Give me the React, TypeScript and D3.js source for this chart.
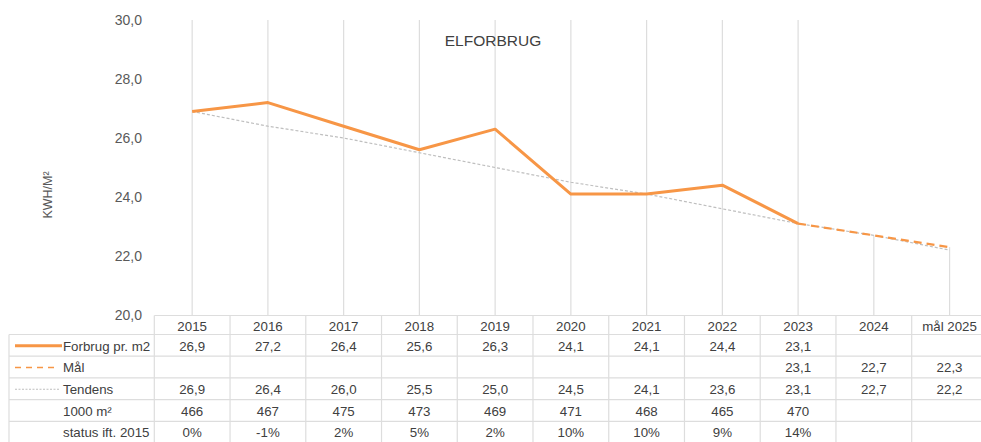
import React from "react";
import * as d3 from "d3";

const categories = ["2015", "2016", "2017", "2018", "2019", "2020", "2021", "2022", "2023", "2024", "mål 2025"];
const forbrug: (number | null)[] = [26.9, 27.2, 26.4, 25.6, 26.3, 24.1, 24.1, 24.4, 23.1, null, null];
const maal: (number | null)[] = [null, null, null, null, null, null, null, null, 23.1, 22.7, 22.3];
const tendens: (number | null)[] = [26.9, 26.4, 26.0, 25.5, 25.0, 24.5, 24.1, 23.6, 23.1, 22.7, 22.2];
const areal: (string | null)[] = ["466", "467", "475", "473", "469", "471", "468", "465", "470", null, null];
const status: (string | null)[] = ["0%", "-1%", "2%", "5%", "2%", "10%", "10%", "9%", "14%", null, null];
const yTicks = [20, 22, 24, 26, 28, 30];

const W = 981;
const H = 442;
const ORANGE = "#F79646";
const GRAY = "#BFBFBF";
const GRID = "#DDDDDD";
const TXT = "#404040";
const FONT = "'Liberation Sans', Arial, Helvetica, sans-serif";

const fmt = (v: number | null) => (v == null ? "" : v.toFixed(1).replace(".", ","));

export default function App() {
  const left = 154.3;
  const colW = 75.74;
  const x = d3
    .scaleBand<string>()
    .domain(categories)
    .range([left, left + colW * categories.length]);
  const cx = (c: string) => (x(c) as number) + x.bandwidth() / 2;
  const y = d3.scaleLinear().domain([20, 30]).range([315, 20]);

  const lineGen = d3
    .line<number | null>()
    .defined((d) => d != null)
    .x((_, i) => cx(categories[i]))
    .y((d) => y(d as number));

  const tableTop = 315.5;
  const headerH = 19;
  const rowH = 21.7;
  const rows = [
    { label: "Forbrug pr. m2", values: forbrug.map(fmt), sym: "solid" },
    { label: "Mål", values: maal.map(fmt), sym: "dash" },
    { label: "Tendens", values: tendens.map(fmt), sym: "dot" },
    { label: "1000 m²", values: areal.map((v) => v ?? ""), sym: "none" },
    { label: "status ift. 2015", values: status.map((v) => v ?? ""), sym: "none" },
  ];
  const tableLeft = 9;
  const tableRight = left + colW * categories.length;
  const rowsTop = tableTop + headerH;

  return (
    <svg
      width={W}
      height={H}
      style={{ position: "absolute", left: 0, top: 0, background: "#fff" }}
      fontFamily={FONT}
    >
      {/* vertical gridlines (full height where measured data exists, drop lines after) */}
      {categories.map((c, i) => {
        const top = forbrug[i] != null ? y(30) : y(Math.max(tendens[i] ?? 20, 20) as number);
        const topY = forbrug[i] != null ? top : Math.min(y(tendens[i] as number), y((maal[i] ?? tendens[i]) as number));
        return <line key={c} x1={cx(c)} x2={cx(c)} y1={topY} y2={tableTop} stroke={GRID} strokeWidth={1.2} />;
      })}
      {/* y tick labels */}
      {yTicks.map((t) => (
        <text key={t} x={142} y={y(t)} dy="0.35em" textAnchor="end" fontSize={14} fill="#595959">
          {fmt(t)}
        </text>
      ))}
      {/* y axis title */}
      <text
        transform={`translate(${52},${195}) rotate(-90)`}
        textAnchor="middle"
        fontSize={12.5}
        fill="#595959"
      >
        KWH/M²
      </text>
      {/* title */}
      <text x={493} y={46} textAnchor="middle" fontSize={15.5} fill={TXT}>
        ELFORBRUG
      </text>
      {/* lines */}
      <path d={lineGen(tendens) || ""} fill="none" stroke={GRAY} strokeWidth={1.2} strokeDasharray="3,2" />
      <path d={lineGen(maal) || ""} fill="none" stroke={ORANGE} strokeWidth={2.2} strokeDasharray="8,5" />
      <path d={lineGen(forbrug) || ""} fill="none" stroke={ORANGE} strokeWidth={3} strokeLinejoin="round" />

      {/* table */}
      <g stroke={GRID} strokeWidth={1.2} fill="none">
        <line x1={left} x2={tableRight} y1={tableTop} y2={tableTop} />
        {rows.map((_, i) => (
          <line key={"h" + i} x1={tableLeft} x2={tableRight} y1={rowsTop + i * rowH} y2={rowsTop + i * rowH} />
        ))}
        <line x1={tableLeft} x2={tableLeft} y1={rowsTop} y2={H} />
        {categories.map((c, i) => (
          <line key={"v" + i} x1={x(c) as number} x2={x(c) as number} y1={tableTop} y2={H} />
        ))}
        <line x1={tableRight} x2={tableRight} y1={tableTop} y2={H} />
      </g>
      {categories.map((c) => (
        <text key={"c" + c} x={cx(c)} y={tableTop + headerH / 2 + 1} dy="0.35em" textAnchor="middle" fontSize={13.3} fill={TXT}>
          {c}
        </text>
      ))}
      {rows.map((r, i) => {
        const yc = rowsTop + i * rowH + rowH / 2 + 0.5;
        return (
          <g key={"r" + i}>
            {r.sym === "solid" && <line x1={15} x2={62} y1={yc} y2={yc} stroke={ORANGE} strokeWidth={3} />}
            {r.sym === "dash" && (
              <line x1={15} x2={58} y1={yc} y2={yc} stroke={ORANGE} strokeWidth={1.6} strokeDasharray="6,5" />
            )}
            {r.sym === "dot" && (
              <line x1={15} x2={60} y1={yc} y2={yc} stroke={GRAY} strokeWidth={1} strokeDasharray="2,1.5" />
            )}
            <text x={63} y={yc} dy="0.35em" fontSize={13.3} fill={TXT}>
              {r.label}
            </text>
            {r.values.map((v, j) => (
              <text key={j} x={cx(categories[j])} y={yc} dy="0.35em" textAnchor="middle" fontSize={13.3} fill={TXT}>
                {v}
              </text>
            ))}
          </g>
        );
      })}
    </svg>
  );
}
